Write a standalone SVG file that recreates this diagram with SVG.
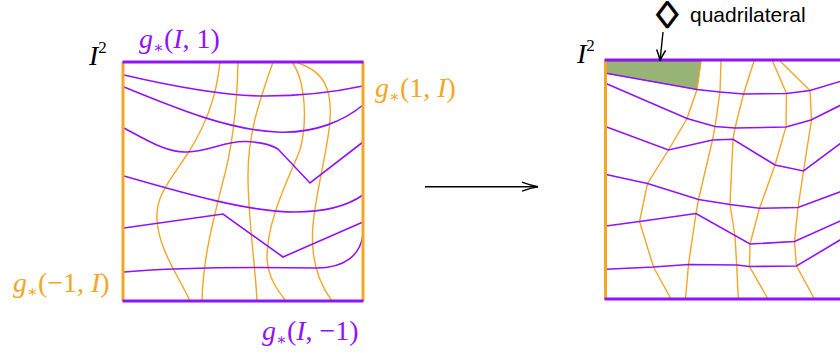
<svg xmlns="http://www.w3.org/2000/svg" width="840" height="353" viewBox="0 0 840 353">
<defs>
<style>
.bp{stroke:#9013FE;stroke-width:3;fill:none;stroke-linecap:square}
.bo{stroke:#F5A623;stroke-width:3;fill:none}
.p{stroke:#9013FE;stroke-width:1.6;fill:none;stroke-linejoin:miter}
.o{stroke:#F5A623;stroke-width:1.4;fill:none}
.math{font-family:"Liberation Serif","DejaVu Serif",serif;font-size:28px}
.it{font-style:italic}
.sub{font-size:16px}
.sup{font-size:17px}
.arr{stroke:#000;stroke-width:1.4;fill:none}
</style>
<marker id="ah" viewBox="-18 -7 20 14" refX="0" refY="0" markerWidth="20" markerHeight="14" markerUnits="userSpaceOnUse" orient="auto">
<path d="M-16,-4.5 Q-7,-1 0,0 Q-7,1 -16,4.5" fill="none" stroke="#000" stroke-width="1.4"/>
</marker>
<marker id="ah2" viewBox="-13 -7 15 14" refX="0" refY="0" markerWidth="15" markerHeight="14" markerUnits="userSpaceOnUse" orient="auto">
<path d="M-11,-4.5 Q-4,-1 0,0 Q-4,1 -11,4.5" fill="none" stroke="#000" stroke-width="1.5"/>
</marker>
</defs>
<rect width="840" height="353" fill="#fff"/>

<g id="left-square">
<path class="o" d="M220,62 C216,100 205,125 190,150 C172,178 155,195 157,220 C159,250 178,275 190,301"/>
<path class="o" d="M238,62 C237,110 232,150 222,185 C212,225 203,260 202,301"/>
<path class="o" d="M273,62 C258,105 248,135 248,175 C248,220 255,260 257,301"/>
<path class="o" d="M292,62 C305,80 308,120 300,150 C288,180 267,220 267,258 C268,280 280,293 286,301"/>
<path class="o" d="M298,63 C325,72 332,90 330,120 C328,150 316,190 313,225 C310,260 320,285 332,301"/>
<path class="p" d="M124,75 C180,88 230,96 265,96 C300,96 335,92 363,86"/>
<path class="p" d="M124,87 C180,110 230,130 277,132 C315,134 345,120 363,105"/>
<path class="p" d="M124,128 C150,142 168,153 187,152 C210,151 225,141 245,141.5 C260,142 270,144 278,149 L310,183 L363,142"/>
<path class="p" d="M124,176 C190,195 250,212 295,212 C330,212 350,204 363,195"/>
<path class="p" d="M124,228 L223,214 L283,257 L363,222"/>
<path class="p" d="M124,272 C170,268 250,267 315,268 C345,268.5 360,255 363,235"/>
<line class="bo" x1="123" y1="62" x2="123" y2="301"/>
<line class="bo" x1="363" y1="62" x2="363" y2="301"/>
<line class="bp" x1="124" y1="62" x2="362" y2="62"/>
<line class="bp" x1="124" y1="301" x2="362" y2="301"/>
</g>

<g id="right-square">
<polygon points="606,61 701,61 697,89.5 606,73.3" fill="#417505" fill-opacity="0.55" stroke="#417505" stroke-opacity="0.6" stroke-width="0.8"/>
<polyline class="o" points="701,61 697,89.5 687,118.5 668.5,150 647.5,183.5 639.5,221.5 653.5,267 671,299"/>
<polyline class="o" points="721,61 720,92 715,127 712.5,140 698.5,199.5 696,213.5 688.5,264.5 685.5,299"/>
<polyline class="o" points="754,61 743.5,94 735,128 733,139.3 730,204.5 735,236 736.7,265 738.3,299"/>
<polyline class="o" points="772.5,61 786.5,93.5 786,127 775,165 759.5,208.3 750,244 749.5,266.5 768,299"/>
<polyline class="o" points="780,61 810,90.5 811.5,120 803.5,171 798,207.5 794.5,241.5 796.5,266 814.5,299"/>
<polyline class="p" points="606,73.3 697,89.5 720,92 743.5,94 786.5,93.5 810,90.5 845,80"/>
<polyline class="p" points="606,83.5 687,118.5 715,126.5 735,128 786,127 811,120 845,103"/>
<polyline class="p" points="606,126.7 668.5,150 712.5,140 733,139.3 775,165 803.5,171 845,140"/>
<polyline class="p" points="606,174.5 647.5,183.5 698.5,199.5 730,204.5 759.5,208.3 798,207.5 845,190"/>
<polyline class="p" points="606,226 639.5,221.5 696,213.5 750,244 794.5,241.5 845,219"/>
<polyline class="p" points="606,269.3 653.5,267 688.5,264.5 736.7,265 749.5,266.5 796.5,266 845,237"/>
<line class="bo" x1="605.5" y1="60" x2="605.5" y2="299"/>
<line class="bp" x1="606" y1="60" x2="850" y2="60"/>
<line class="bp" x1="606" y1="299" x2="850" y2="299"/>
</g>

<g id="labels">
<text class="math it" x="89" y="65">I<tspan class="sup" font-style="normal" dy="-12">2</tspan></text>
<text class="math it" x="577" y="63">I<tspan class="sup" font-style="normal" dy="-12">2</tspan></text>
<text class="math" x="139" y="48" fill="#9013FE"><tspan class="it">g</tspan><tspan class="sub" dy="5">∗</tspan><tspan dy="-5">(</tspan><tspan class="it">I</tspan>, 1)</text>
<text class="math" x="375" y="97" fill="#F5A623"><tspan class="it">g</tspan><tspan class="sub" dy="5">∗</tspan><tspan dy="-5">(1, </tspan><tspan class="it">I</tspan>)</text>
<text class="math" x="13" y="292" fill="#F5A623"><tspan class="it">g</tspan><tspan class="sub" dy="5">∗</tspan><tspan dy="-5">(−1, </tspan><tspan class="it">I</tspan>)</text>
<text class="math" x="262" y="340" fill="#9013FE"><tspan class="it">g</tspan><tspan class="sub" dy="5">∗</tspan><tspan dy="-5">(</tspan><tspan class="it">I</tspan>, −1)</text>
<g id="quad-label">
<text transform="translate(656,27.5) scale(1.2,1)" font-family="'Liberation Sans','DejaVu Sans',sans-serif" font-size="38px" fill="#000" stroke="#000" stroke-width="0.6">◊</text>
<text x="690" y="21.5" font-family="'Liberation Sans',Arial,sans-serif" font-size="21px" fill="#000">quadrilateral</text>
</g>
</g>

<g id="connectors">
<line class="arr" x1="425" y1="186.7" x2="538" y2="186.7" marker-end="url(#ah)"/>
<line class="arr" x1="663" y1="32" x2="660" y2="61" stroke-width="1.5" marker-end="url(#ah2)"/>
</g>
</svg>
